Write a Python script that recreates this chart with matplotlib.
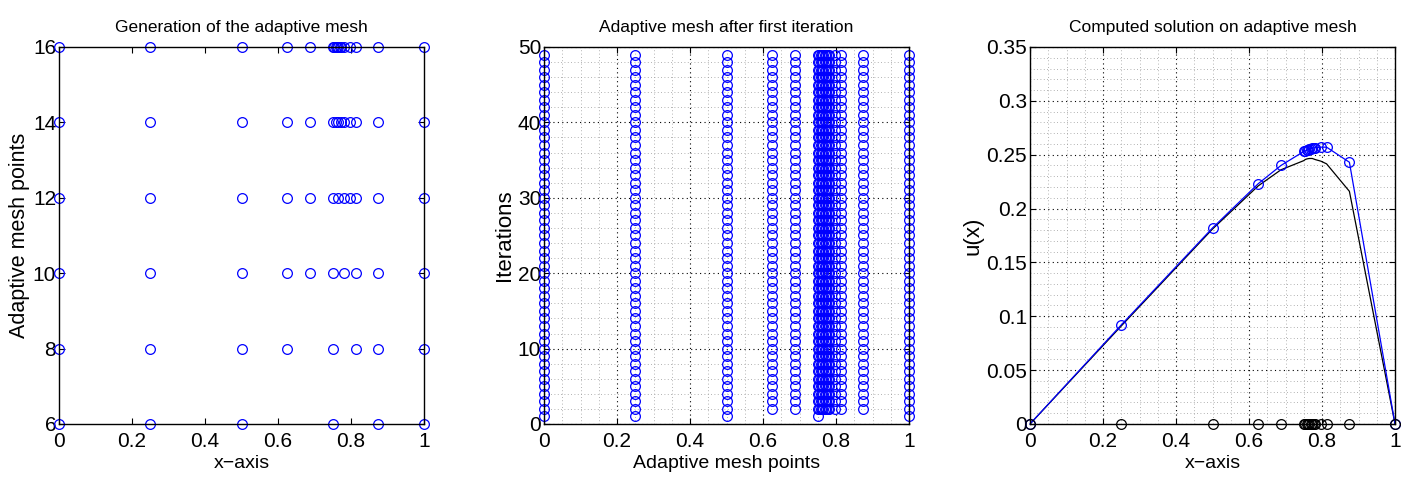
"""Adaptive mesh generation, mesh history over iterations and computed solution."""
import numpy as np
import matplotlib.pyplot as plt
from matplotlib.ticker import MultipleLocator

# mesh points at each refinement level (panel 1), y = number of points
LEVEL_6 = [0, 0.25, 0.5, 0.75, 0.875, 1]
LEVEL_8 = [0, 0.25, 0.5, 0.625, 0.75, 0.8125, 0.875, 1]
LEVEL_10 = [0, 0.25, 0.5, 0.625, 0.6875, 0.75, 0.78125, 0.8125, 0.875, 1]
LEVEL_12 = [0, 0.25, 0.5, 0.625, 0.6875, 0.75, 0.765625, 0.78125, 0.796875,
            0.8125, 0.875, 1]
LEVEL_14 = [0, 0.25, 0.5, 0.625, 0.6875, 0.75, 0.7578125, 0.765625, 0.7734375,
            0.78125, 0.796875, 0.8125, 0.875, 1]
LEVEL_16 = [0, 0.25, 0.5, 0.625, 0.6875, 0.75, 0.75390625, 0.7578125,
            0.76171875, 0.765625, 0.76953125, 0.7734375, 0.78125, 0.796875,
            0.8125, 0.875, 1]
LEVELS = [LEVEL_6, LEVEL_8, LEVEL_10, LEVEL_12, LEVEL_14, LEVEL_16]
LEVEL_Y = [6, 8, 10, 12, 14, 16]

# mesh history (panel 2)
ITER1_MESH = [0, 0.25, 0.5, 0.75, 1]
FINAL_MESH = [0, 0.25, 0.5, 0.625, 0.6875, 0.75, 0.75390625, 0.7578125,
              0.76171875, 0.765625, 0.76953125, 0.7734375, 0.77734375, 0.78125,
              0.796875, 0.8125, 0.875, 1]
N_ITER = 49

# solution on final mesh (panel 3)
U_COMPUTED = [0, 0.092, 0.182, 0.223, 0.240, 0.253, 0.2535, 0.254, 0.2545,
              0.255, 0.2555, 0.256, 0.2563, 0.2566, 0.257, 0.257, 0.243, 0]
U_EXACT = [0, 0.091, 0.181, 0.221, 0.236, 0.2445, 0.2455, 0.246, 0.2463,
           0.2465, 0.2465, 0.2465, 0.246, 0.2455, 0.244, 0.2415, 0.216, 0]

plt.rcParams.update({
    "font.family": ["Liberation Sans Narrow", "Liberation Sans", "DejaVu Sans"],
    "font.size": 12,
    "xtick.direction": "in",
    "ytick.direction": "in",
    "xtick.top": True,
    "ytick.right": True,
    "xtick.major.size": 4,
    "ytick.major.size": 4,
    "xtick.minor.size": 0,
    "ytick.minor.size": 0,
    "xtick.major.pad": 6,
    "ytick.major.pad": 2,
    "xtick.labelsize": 15,
    "ytick.labelsize": 15,
    "axes.linewidth": 1.0,
})

fig = plt.figure(figsize=(14.05, 4.83), dpi=100)
ax1 = fig.add_axes([0.042, 0.1222, 0.2598, 0.7805])
ax2 = fig.add_axes([0.3872, 0.1222, 0.2598, 0.7805])
ax3 = fig.add_axes([0.7331, 0.1222, 0.2598, 0.7805])

mk = dict(marker='o', ls='none', mfc='none', ms=7, mew=0.9)
ticks01 = [0, 0.2, 0.4, 0.6, 0.8, 1]
labels01 = ["0", "0.2", "0.4", "0.6", "0.8", "1"]

# ---- panel 1 ----
for pts, y in zip(LEVELS, LEVEL_Y):
    ax1.plot(pts, [y] * len(pts), mec='blue', clip_on=False, **mk)
ax1.set_xlim(0, 1)
ax1.set_ylim(6, 16)
ax1.set_xticks(ticks01)
ax1.set_xticklabels(labels01)
ax1.set_yticks(LEVEL_Y)
ax1.set_xlabel("x\u2212axis", fontsize=14, labelpad=3)
ax1.set_ylabel("Adaptive mesh points", fontsize=15.5, labelpad=2)
ax1.set_title("Generation of the adaptive mesh", fontsize=12.5, pad=11)

# ---- panel 2 ----
ax2.plot(ITER1_MESH, [1] * len(ITER1_MESH), mec='blue', clip_on=False, **mk)
for it in range(2, N_ITER + 1):
    ax2.plot(FINAL_MESH, [it] * len(FINAL_MESH), mec='blue', clip_on=False, **mk)
ax2.set_xlim(0, 1)
ax2.set_ylim(0, 50)
ax2.set_xticks(ticks01)
ax2.set_xticklabels(labels01)
ax2.set_yticks([0, 10, 20, 30, 40, 50])
ax2.xaxis.set_minor_locator(MultipleLocator(0.05))
ax2.yaxis.set_minor_locator(MultipleLocator(2))
ax2.set_xlabel("Adaptive mesh points", fontsize=14, labelpad=3)
ax2.set_ylabel("Iterations", fontsize=16, labelpad=2)
ax2.set_title("Adaptive mesh after first iteration", fontsize=12.5, pad=11)

# ---- panel 3 ----
ax3.plot(FINAL_MESH, U_EXACT, '-', color='black', lw=0.9)
ax3.plot(FINAL_MESH, U_COMPUTED, '-', color='blue', lw=0.9, marker='o',
         mfc='none', ms=7, mew=0.9, clip_on=False)
ax3.plot(FINAL_MESH, [0] * len(FINAL_MESH), mec='black', clip_on=False, **mk)
ax3.set_xlim(0, 1)
ax3.set_ylim(0, 0.35)
ax3.set_xticks(ticks01)
ax3.set_xticklabels(labels01)
ax3.set_yticks(np.arange(0, 0.351, 0.05))
ax3.set_yticklabels(["0", "0.05", "0.1", "0.15", "0.2", "0.25", "0.3", "0.35"])
ax3.xaxis.set_minor_locator(MultipleLocator(0.05))
ax3.yaxis.set_minor_locator(MultipleLocator(0.01))
ax3.set_xlabel("x\u2212axis", fontsize=14, labelpad=3)
ax3.set_ylabel("u(x)", fontsize=16, labelpad=2)
ax3.set_title("Computed solution on adaptive mesh", fontsize=12.5, pad=11)

for ax in (ax2, ax3):
    ax.set_axisbelow(True)
    ax.grid(True, which='major', ls=(0, (1, 3)), color='black', lw=0.8)
    ax.grid(True, which='minor', ls=(0, (1, 3)), color='0.6', lw=0.6)

fig.savefig("out.png", dpi=100)
